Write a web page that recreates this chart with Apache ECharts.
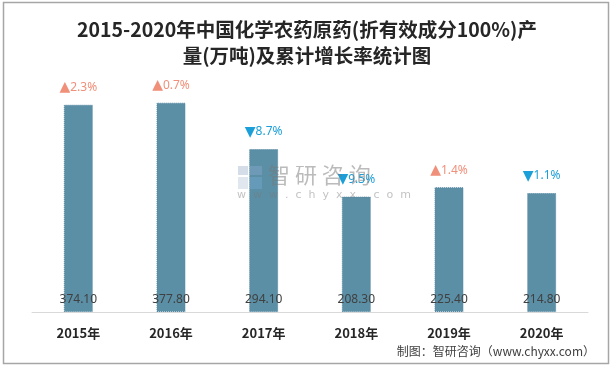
<!DOCTYPE html>
<html>
<head>
<meta charset="utf-8">
<script src="https://cdn.jsdelivr.net/npm/echarts@6/dist/echarts.min.js"></script>
<style>
html,body{margin:0;padding:0;background:#fff;}
#c{width:614px;height:368px;}
</style>
</head>
<body>
<div id="c"></div>
<script>
var categories = ['2015年','2016年','2017年','2018年','2019年','2020年'];
var production = [374.10, 377.80, 294.10, 208.30, 225.40, 214.80];
var growthRate = [2.3, 0.7, -8.7, -9.5, 1.4, -1.1];
var titleText = '2015-2020年中国化学农药原药(折有效成分100%)产\n量(万吨)及累计增长率统计图';
var sourceText = '制图：智研咨询（www.chyxx.com）';

var chart = echarts.init(document.getElementById('c'), null, {renderer:'canvas'});
var option = {
  backgroundColor: '#fff',
  animation: false,
  title: {
    text: titleText,
    left: 'center',
    top: 12,
    textStyle: {
      fontFamily: '"Noto Sans CJK SC", sans-serif',
      fontSize: 19.5,
      fontWeight: 'bold',
      color: '#262626',
      lineHeight: 26
    }
  },
  grid: {left: 32, right: 26, top: 35, bottom: 56, containLabel: false},
  xAxis: {
    type: 'category',
    data: categories,
    axisLine: {show: true, lineStyle: {color: '#D9D9D9', width: 1}},
    axisTick: {show: false},
    axisLabel: {
      margin: 15,
      fontFamily: '"Noto Sans CJK SC", sans-serif',
      fontSize: 13,
      fontWeight: 'bold',
      color: '#262626'
    }
  },
  yAxis: {
    type: 'value',
    min: 0,
    max: 500,
    show: false
  },
  graphic: [
    {type:'rect', shape:{x:3.5, y:2.5, width:605, height:361}, style:{fill:'none', stroke:'#A6A6A6', lineWidth:1.5}, silent:true, z:0},
    {type:'text', right: 19, top: 345, style:{text: sourceText, fill:'#404040', font:'12px "Noto Sans CJK SC", sans-serif'}, z:10},
    {type:'rect', shape:{x:238, y:166, width:10, height:9}, style:{fill:'rgba(150,170,200,0.4)'}, z:20},
    {type:'rect', shape:{x:250, y:166, width:12, height:9}, style:{fill:'rgba(140,170,210,0.4)'}, z:20},
    {type:'rect', shape:{x:238, y:177, width:10, height:12}, style:{fill:'rgba(180,195,215,0.4)'}, z:20},
    {type:'rect', shape:{x:250, y:177, width:12, height:12}, style:{fill:'rgba(120,170,215,0.4)'}, z:20},
    {type:'text', left: 268, top: 164, style:{text:'智 研 咨 询', fill:'rgba(120,120,120,0.5)', font:'22px "Noto Sans CJK SC", sans-serif'}, z:20},
    {type:'text', left: 237, top: 190, style:{text:'w  w  w  .  c  h  y  x  x  .  c  o  m', fill:'rgba(120,120,120,0.45)', font:'11px "DejaVu Sans", sans-serif'}, z:20}
  ],
  series: [
    {
      type: 'bar',
      data: production,
      barWidth: 29,
      itemStyle: {color: '#5B8FA6', borderColor: '#5587A0', borderWidth: 1, borderType: 'dotted'},
      label: {
        show: true,
        position: 'insideBottom',
        distance: 6,
        fontFamily: '"Noto Sans", sans-serif',
        fontSize: 12,
        color: '#404040',
        formatter: function(p){ return p.value.toFixed(2); }
      },
      z: 2
    },
    {
      type: 'bar',
      data: production,
      barWidth: 29,
      barGap: '-100%',
      itemStyle: {color: 'rgba(0,0,0,0)'},
      label: {
        show: true,
        position: 'top',
        distance: 10,
        formatter: function(p){
          var g = growthRate[p.dataIndex];
          return g >= 0 ? '{upT|▲}{up|' + g.toFixed(1) + '%}' : '{downT|▼}{down|' + Math.abs(g).toFixed(1) + '%}';
        },
        rich: {
          upT: {color: '#F0907A', fontSize: 14, fontFamily: '"DejaVu Sans", sans-serif'},
          downT: {color: '#1A9FD9', fontSize: 14, fontFamily: '"DejaVu Sans", sans-serif'},
          up: {color: '#F0907A', fontSize: 12, fontFamily: '"Noto Sans", sans-serif'},
          down: {color: '#1A9FD9', fontSize: 12, fontFamily: '"Noto Sans", sans-serif'}
        }
      },
      z: 3
    }
  ]
};
chart.setOption(option);
</script>
</body>
</html>
